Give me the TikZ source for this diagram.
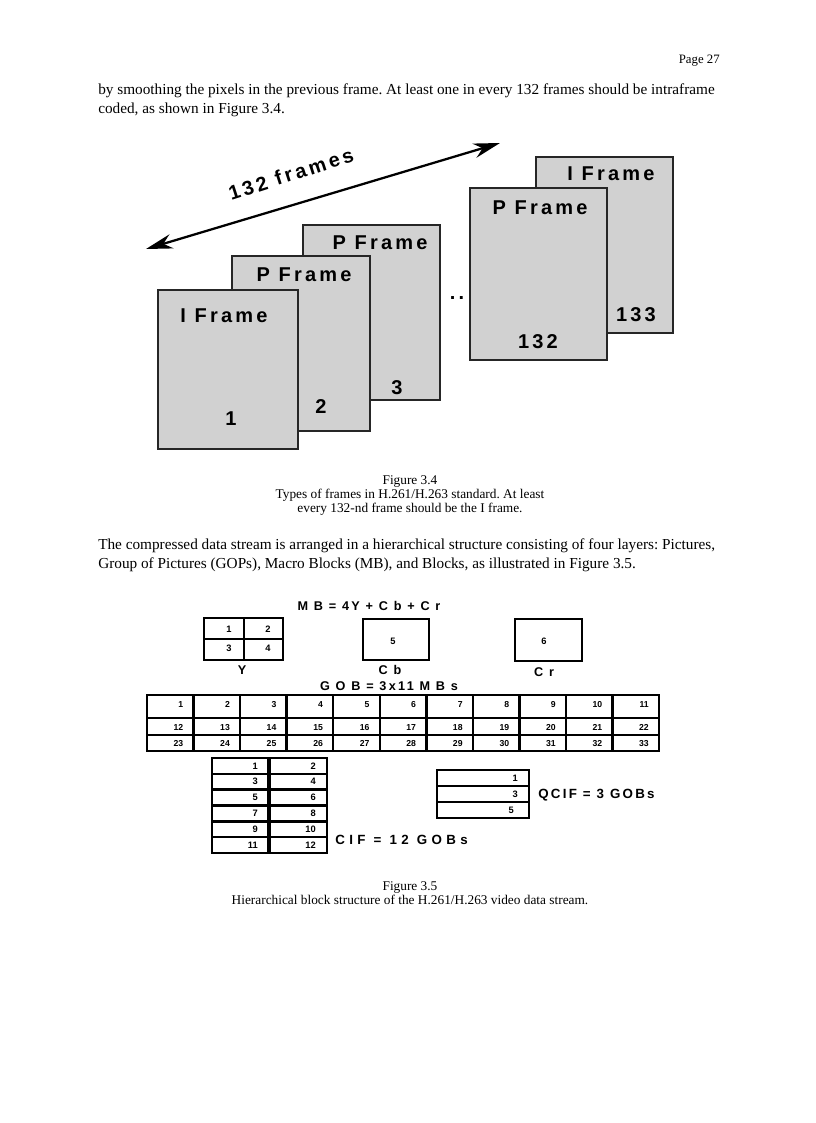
\documentclass[tikz,border=0pt]{standalone}
\usepackage{fontspec}
\setmainfont{Liberation Serif}
\newfontfamily\fsans[LetterSpace=16]{Liberation Sans}
\newfontfamily\lsans[LetterSpace=18]{Liberation Sans}
\newfontfamily\csans[LetterSpace=33]{Liberation Sans}
\newfontfamily\qsans[LetterSpace=17]{Liberation Sans}
\newfontfamily\nsans{Liberation Sans}
\usetikzlibrary{arrows.meta}
\frenchspacing
\tikzset{
  bodytext/.style={anchor=base west, inner sep=0pt, font=\fontsize{11.45}{14}\selectfont},
  captext/.style={anchor=base, inner sep=0pt, font=\fontsize{10}{12}\selectfont},
  framebox/.style={draw=black!85, line width=1.4pt, fill=black!18},
  framelabel/.style={inner sep=0pt, font=\fsans\bfseries\fontsize{15}{16}\selectfont},
  blocklabel/.style={inner sep=0pt, font=\lsans\bfseries\fontsize{9.5}{10}\selectfont},
  biglabel/.style={inner sep=0pt, anchor=west},
  num/.style={inner sep=0pt, font=\nsans\bfseries\fontsize{7}{8}\selectfont},
  smallnum/.style={inner sep=0pt, anchor=base east, font=\nsans\bfseries\fontsize{6.5}{7}\selectfont},
  cellline/.style={draw=black, line width=1.8pt},
  thinbox/.style={draw=black, line width=1.5pt},
}
\begin{document}
\begin{tikzpicture}[x=0.75pt,y=-0.75pt]
\useasboundingbox[fill=white] (0,0) rectangle (816,1123);

% page text
\node[anchor=base east, inner sep=0pt, font=\fontsize{9.6}{11}\selectfont] (page) at (720,64) {Page 27};
\node[bodytext] (p1a) at (98,95) {by smoothing the pixels in the previous frame. At least one in every 132 frames should be intraframe};
\node[bodytext] (p1b) at (98,114) {coded, as shown in Figure 3.4.};

% Figure 3.4 : frames
\draw[framebox] (536,157) rectangle (673,333);
\draw[framebox] (470,188) rectangle (607,360);
\draw[framebox] (303,225) rectangle (440,400);
\draw[framebox] (232,256) rectangle (370,431);
\draw[framebox] (158,290) rectangle (298,449);

\node[framelabel] (t133) at (611,174) {I Frame};
\node[framelabel] (n133) at (636,315) {133};
\node[framelabel] (t132) at (540,208) {P Frame};
\node[framelabel] (n132) at (538,342) {132};
\node[framelabel] (t3) at (380,243) {P Frame};
\node[framelabel] (n3) at (397,388) {3};
\node[framelabel] (t2) at (304,275) {P Frame};
\node[framelabel] (n2) at (321,407) {2};
\node[framelabel] (t1) at (224,316) {I Frame};
\node[framelabel] (n1) at (231,419) {1};
\node[framelabel] (dots) at (457,298) {..};

\coordinate (arrL) at (146,249);
\coordinate (arrR) at (500,143);
\draw[line width=1.7pt, {Stealth[length=20pt,width=11pt]}-{Stealth[length=20pt,width=11pt]}] (arrL) -- (arrR);
\node[framelabel, rotate=18] (arrtxt) at (291,174) {132 frames};

\node[captext] (c34a) at (410,484) {Figure 3.4};
\node[captext] (c34b) at (410,498) {Types of frames in H.261/H.263 standard. At least};
\node[captext] (c34c) at (410,512) {every 132-nd frame should be the I frame.};

\node[bodytext] (p2a) at (98,549) {The compressed data stream is arranged in a hierarchical structure consisting of four layers: Pictures,};
\node[bodytext] (p2b) at (98,568) {Group of Pictures (GOPs), Macro Blocks (MB), and Blocks, as illustrated in Figure 3.5.};

% Figure 3.5 : MB
\node[blocklabel] (mbl) at (369,606) {M B = 4Y + C b + C r};
\draw[thinbox] (204,618) rectangle (283,660);
\draw[thinbox] (244,618) -- (244,660);
\draw[thinbox] (204,639) -- (283,639);
\node[num] (y1) at (229,629) {1};
\node[num] (y2) at (268,629) {2};
\node[num] (y3) at (229,648) {3};
\node[num] (y4) at (268,648) {4};
\node[blocklabel] (yl) at (242,670) {Y};
\draw[thinbox] (363,619) rectangle (429,660);
\node[num] (b5) at (393,641) {5};
\node[blocklabel] (cbl) at (390,670) {C b};
\draw[thinbox] (515,619) rectangle (582,661);
\node[num] (b6) at (544,641) {6};
\node[blocklabel] (crl) at (544,672) {C r};

% GOB
\node[blocklabel] (gobl) at (389,686) {G O B = 3x11 M B s};
\foreach \t/\b in {695/718, 718/735, 735/751} {
  \draw[cellline] (147,\t) rectangle (659,\b);
}
\foreach \i in {1,...,10} {
  \draw[cellline] ({147+46.55*\i},695) -- ({147+46.55*\i},751);
}
\foreach \i in {0,...,10} {
  \pgfmathsetmacro\xr{147+46.55*(\i+1)-10}
  \pgfmathtruncatemacro\na{\i+1}
  \pgfmathtruncatemacro\nb{\i+12}
  \pgfmathtruncatemacro\nc{\i+23}
  \node[smallnum] (g\na) at (\xr,707) {\na};
  \node[smallnum] (g\nb) at (\xr,730) {\nb};
  \node[smallnum] (g\nc) at (\xr,746) {\nc};
}

% CIF
\foreach \k in {0,...,5} {
  \draw[cellline] (212,{758+15.83*\k}) rectangle (327,{758+15.83*(\k+1)});
}
\draw[draw=black, line width=2.4pt] (269,758) -- (269,853);
\foreach \k in {0,...,5} {
  \pgfmathtruncatemacro\ca{2*\k+1}
  \pgfmathtruncatemacro\cb{2*\k+2}
  \node[num, anchor=base east] (cif\ca) at (258,{769+15.83*\k}) {\ca};
  \node[num, anchor=base east] (cif\cb) at (316,{769+15.83*\k}) {\cb};
}
\node[biglabel, font=\csans\bfseries\fontsize{10}{11}\selectfont] (cifl) at (335,840) {CIF = 12 GOBs};

% QCIF
\foreach \k in {0,...,2} {
  \draw[cellline] (437,{770+16*\k}) rectangle (529,{770+16*(\k+1)});
}
\node[num, anchor=base east] (q1) at (518,781) {1};
\node[num, anchor=base east] (q3) at (518,797) {3};
\node[num, anchor=base east] (q5) at (514,813) {5};
\node[biglabel, font=\qsans\bfseries\fontsize{10}{11}\selectfont] (qcifl) at (538,795) {QCIF = 3 GOBs};

\node[captext] (c35a) at (410,890) {Figure 3.5};
\node[captext] (c35b) at (410,904) {Hierarchical block structure of the H.261/H.263 video data stream.};
\end{tikzpicture}
\end{document}
